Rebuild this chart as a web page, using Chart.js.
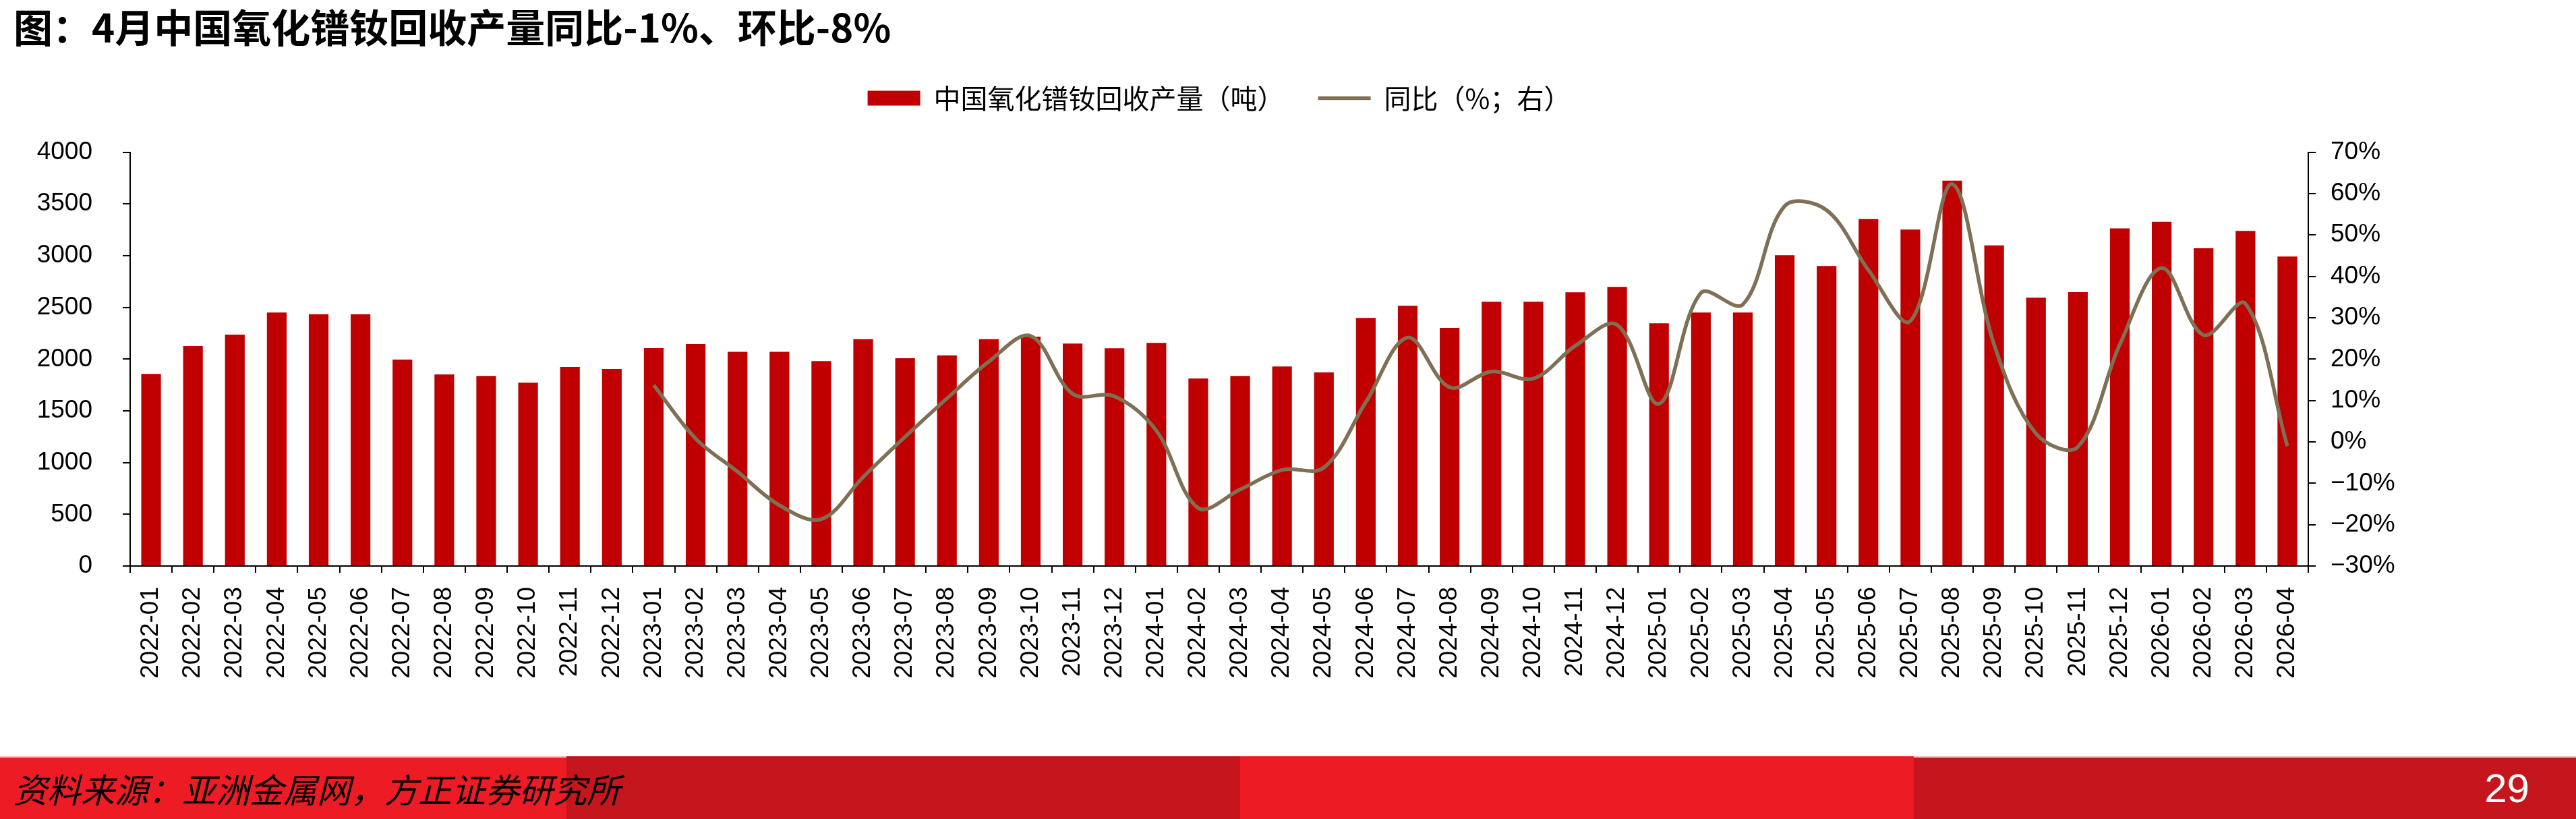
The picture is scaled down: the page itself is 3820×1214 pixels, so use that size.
<!DOCTYPE html>
<html>
<head>
<meta charset="utf-8">
<script src="https://cdn.jsdelivr.net/npm/chart.js@4.4.1/dist/chart.umd.min.js"></script>
<style>
  html, body { margin: 0; padding: 0; background: #fff; }
  #page { position: relative; width: 3820px; height: 1214px; overflow: hidden; }
  #chartBox { position: absolute; left: 0; top: 0; width: 3820px; height: 1121px; }
  #footer { position: absolute; left: 0; top: 1121px; width: 3820px; height: 93px; }
  .band { position: absolute; top: 0; height: 93px; }
  .light { border-top: 2px solid #f3b9b9; height: 91px; }
  #source {
    position: absolute; left: 20px; top: 18px;
    font: italic 50px "Noto Sans CJK SC", sans-serif; color: #000; line-height: 58px;
  }
  #pageNo {
    position: absolute; right: 69px; top: 16px;
    font: 60px "Liberation Sans", Arial, sans-serif; color: #fff; line-height: 64px;
  }
</style>
</head>
<body>
<div id="page">
  <div id="chartBox"><canvas id="myChart" width="3820" height="1121"></canvas></div>
  <div id="footer">
    <div class="band light" style="left:0;width:840px;background:#ed1c24;"></div>
    <div class="band" style="left:840px;width:999px;background:#c4161c;"></div>
    <div class="band" style="left:1839px;width:999px;background:#ed1c24;"></div>
    <div class="band light" style="left:2838px;width:982px;background:#c4161c;"></div>
    <div id="source">资料来源：亚洲金属网，方正证券研究所</div>
    <div id="pageNo">29</div>
  </div>
</div>
<script>
// Categories (months)
const months = [
  '2022-01','2022-02','2022-03','2022-04','2022-05','2022-06','2022-07','2022-08','2022-09','2022-10','2022-11','2022-12',
  '2023-01','2023-02','2023-03','2023-04','2023-05','2023-06','2023-07','2023-08','2023-09','2023-10','2023-11','2023-12',
  '2024-01','2024-02','2024-03','2024-04','2024-05','2024-06','2024-07','2024-08','2024-09','2024-10','2024-11','2024-12',
  '2025-01','2025-02','2025-03','2025-04','2025-05','2025-06','2025-07','2025-08','2025-09','2025-10','2025-11','2025-12',
  '2026-01','2026-02','2026-03','2026-04'
];

// 中国氧化镨钕回收产量（吨）
const recycledOutput = [
  1857, 2126, 2236, 2451, 2434, 2434, 1995, 1852, 1838, 1772, 1923, 1904,
  2107, 2146, 2071, 2071, 1981, 2192, 2008, 2036, 2192, 2217, 2151, 2104,
  2157, 1813, 1838, 1929, 1871, 2398, 2516, 2302, 2555, 2555, 2646, 2698,
  2346, 2451, 2451, 3005, 2901, 3354, 3253, 3725, 3099, 2593, 2648, 3264,
  3327, 3071, 3239, 2992
];

// 同比（%，右轴）
const yoyPct = [
  null, null, null, null, null, null, null, null, null, null, null, null,
  13.7, 0.8, -7.2, -15.3, -18.7, -8.5, 1.2, 10.5, 19.4, 25.6, 11.6, 11.0,
  2.7, -16.0, -11.5, -6.8, -6.2, 9.6, 25.2, 13.2, 17.0, 15.3, 23.2, 28.3,
  9.2, 36.0, 33.2, 57.0, 56.0, 41.5, 29.2, 62.3, 23.5, 2.0, -1.2, 23.5,
  42.0, 25.8, 33.4, -1.0
];

// Axis ticks
const leftTicks = { min: 0, max: 4000, step: 500 };
const rightTicks = { min: -30, max: 70, step: 10 };

const tickFont = { family: "'Liberation Sans', Arial, sans-serif", size: 37 };
const cjkFont = "'Noto Sans CJK SC', 'Noto Sans', sans-serif";

const ctx = document.getElementById('myChart').getContext('2d');

const myChart = new Chart(ctx, {
  data: {
    labels: months,
    datasets: [
      {
        type: 'bar',
        label: '中国氧化镨钕回收产量（吨）',
        data: recycledOutput,
        yAxisID: 'y',
        backgroundColor: '#c00000',
        borderWidth: 0,
        barPercentage: 0.47,
        categoryPercentage: 1,
        order: 2
      },
      {
        type: 'line',
        label: '同比（%；右）',
        data: yoyPct,
        yAxisID: 'y1',
        borderColor: '#7f7055',
        backgroundColor: '#7f7055',
        borderWidth: 5.5,
        pointRadius: 0,
        tension: 0.35,
        order: 1
      }
    ]
  },
  options: {
    responsive: false,
    animation: false,
    devicePixelRatio: 1,
    layout: { padding: { left: 20, right: 0, top: 0, bottom: 0 } },
    plugins: {
      tooltip: { enabled: false },
      title: {
        display: true,
        text: '图：4月中国氧化镨钕回收产量同比-1%、环比-8%',
        align: 'start',
        color: '#000',
        font: { family: cjkFont, size: 58, weight: 'bold' },
        padding: { top: 6, bottom: 0 }
      },
      // empty spacer between legend and plot area
      subtitle: {
        display: true,
        text: ' ',
        weight: 500,
        font: { size: 10 },
        padding: { top: 38, bottom: 0 }
      },
      legend: {
        position: 'top',
        fullSize: false,
        labels: {
          color: '#000',
          font: { family: cjkFont, size: 40 },
          usePointStyle: true,
          pointStyleWidth: 78,
          boxHeight: 22,
          padding: 50,
          sort: (a, b) => a.datasetIndex - b.datasetIndex,
          generateLabels: (chart) => {
            const items = Chart.defaults.plugins.legend.labels.generateLabels(chart);
            items.forEach(it => {
              const ds = chart.data.datasets[it.datasetIndex];
              it.pointStyle = ds.type === 'line' ? 'line' : 'rect';
              if (ds.type === 'line') { it.lineWidth = 5.5; it.strokeStyle = ds.borderColor; }
              else { it.lineWidth = 0; }
            });
            return items;
          }
        }
      }
    },
    scales: {
      x: {
        offset: true,
        grid: { offset: true, drawOnChartArea: false, tickLength: 10, color: '#000', lineWidth: 2 },
        border: { color: '#000', width: 2 },
        ticks: {
          color: '#000', font: tickFont, autoSkip: false,
          maxRotation: 90, minRotation: 90, padding: 21
        },
        afterFit: (s) => { s.height = 282; }
      },
      y: {
        position: 'left',
        min: leftTicks.min, max: leftTicks.max,
        grid: { drawOnChartArea: false, tickLength: 11, color: '#000', lineWidth: 2 },
        border: { color: '#000', width: 2 },
        ticks: {
          color: '#000', font: tickFont, stepSize: leftTicks.step, padding: 45,
          callback: (v) => String(v)
        },
        afterFit: (s) => { s.width = 173; }
      },
      y1: {
        position: 'right',
        min: rightTicks.min, max: rightTicks.max,
        grid: { drawOnChartArea: false, tickLength: 11, color: '#000', lineWidth: 2 },
        border: { color: '#000', width: 2 },
        ticks: {
          color: '#000', font: tickFont, stepSize: rightTicks.step, padding: 22,
          callback: (v) => (v < 0 ? '\u2212' + Math.abs(v) : v) + '%'
        },
        afterFit: (s) => { s.width = 397; }
      }
    }
  }
});
</script>
</body>
</html>
